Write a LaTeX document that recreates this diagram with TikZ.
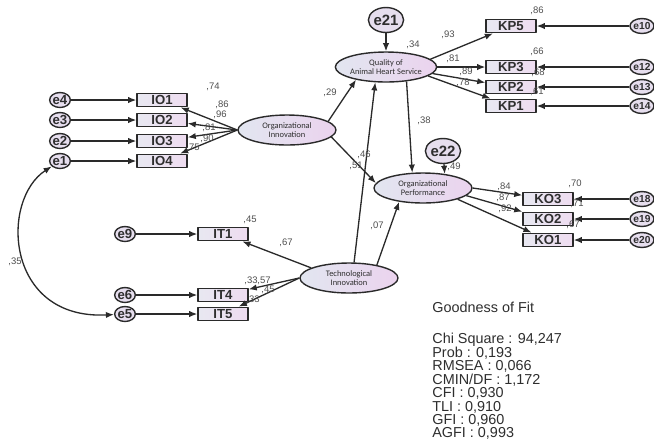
\documentclass[tikz,border=0pt]{standalone}
\usepackage{fontspec}
\setmainfont{Liberation Sans}
\newfontfamily\carlito{Carlito}
\usetikzlibrary{arrows.meta,shapes.geometric}

\definecolor{lineg}{HTML}{2A2A2A}
\definecolor{txtg}{HTML}{2E2E2E}
\definecolor{coefg}{HTML}{4E4E4E}
\definecolor{boxl}{HTML}{E8E8F1}
\definecolor{boxr}{HTML}{EEDCF0}
\definecolor{latl}{HTML}{E2E6F0}
\definecolor{latr}{HTML}{EBD3EE}
\definecolor{errf}{HTML}{E6DEEE}

\tikzset{
  obs/.style={draw=lineg, line width=0.8pt, left color=boxl, right color=boxr,
    minimum width=1cm, minimum height=0.27cm, inner sep=0pt,
    font=\fontsize{7.5}{8}\selectfont\bfseries, text=txtg},
  lat/.style={ellipse, draw=lineg, line width=0.8pt, left color=latl, right color=latr,
    minimum width=1.96cm, minimum height=0.6cm, inner sep=0pt, align=center,
    font=\carlito\fontsize{4.8}{5.4}\selectfont, text=txtg},
  err/.style={ellipse, draw=lineg, line width=0.8pt, fill=errf,
    minimum width=0.36cm, minimum height=0.3cm, inner sep=0pt,
    font=\fontsize{7.5}{8}\selectfont\bfseries, text=txtg},
  smallerr/.style={err, font=\fontsize{5.8}{6}\selectfont\bfseries},
  bigerr/.style={err, minimum width=0.54cm, minimum height=0.5cm,
    font=\fontsize{8.5}{9}\selectfont\bfseries},
  coef/.style={font=\fontsize{5.4}{6}\selectfont, text=coefg, inner sep=0pt},
  path/.style={->, draw=lineg, line width=0.75pt},
  gof/.style={font=\fontsize{8.2}{7.65}\selectfont, text=txtg, inner sep=0pt, align=left}
}

\begin{document}
\begin{tikzpicture}[x=0.02cm, y=-0.02cm, line join=round, >={Latex[length=4.6pt,width=3.6pt]}]
\useasboundingbox (0,0) rectangle (654,441);

% Organizational Innovation
\node[lat] (OI) at (287,130) {Organizational\\Innovation};
\node[obs] (IO1) at (162,100) {IO1};
\node[obs] (IO2) at (162,120) {IO2};
\node[obs] (IO3) at (162,141) {IO3};
\node[obs] (IO4) at (162,161) {IO4};
\node[err] (e4) at (60,100) {e4};
\node[err] (e3) at (60,120) {e3};
\node[err] (e2) at (60,141) {e2};
\node[err] (e1) at (60,161) {e1};
\draw[path] (e4) -- (IO1);
\draw[path] (e3) -- (IO2);
\draw[path] (e2) -- (IO3);
\draw[path] (e1) -- (IO4);
\draw[path] (OI.west) -- (IO1);
\draw[path] (OI.west) -- (IO2);
\draw[path] (OI.west) -- (IO3);
\draw[path] (OI.west) -- (IO4);

% Technological Innovation
\node[lat] (TI) at (349,278) {Technological\\Innovation};
\node[obs] (IT1) at (223,234) {IT1};
\node[obs] (IT4) at (223,295) {IT4};
\node[obs] (IT5) at (223,314) {IT5};
\node[err] (e9) at (125,234) {e9};
\node[err] (e6) at (125,295) {e6};
\node[err] (e5) at (125,314) {e5};
\draw[path] (e9) -- (IT1);
\draw[path] (e6) -- (IT4);
\draw[path] (e5) -- (IT5);
\draw[path] (TI.165) -- (IT1);
\draw[path] (TI.west) -- (IT4);
\draw[path] (TI.west) -- (IT5);

% Quality of Animal Heart Service
\node[lat] (QAHS) at (386,67) {Quality of\\Animal Heart Service};
\node[bigerr] (e21) at (386,20) {e21};
\node[obs] (KP5) at (511,26) {KP5};
\node[obs] (KP3) at (511,67) {KP3};
\node[obs] (KP2) at (511,87) {KP2};
\node[obs] (KP1) at (511,106) {KP1};
\node[smallerr] (e10) at (642,26) {e10};
\node[smallerr] (e12) at (642,67) {e12};
\node[smallerr] (e13) at (642,87) {e13};
\node[smallerr] (e14) at (642,106) {e14};
\draw[path] (e21) -- (QAHS);
\draw[path] (e10) -- (KP5);
\draw[path] (e12) -- (KP3);
\draw[path] (e13) -- (KP2);
\draw[path] (e14) -- (KP1);
\draw[path] (QAHS.10) -- (KP5);
\draw[path] (QAHS.east) -- (KP3);
\draw[path] (QAHS.-8) -- (KP2);
\draw[path] (QAHS.-12) -- (KP1);

% Organizational Performance
\node[lat] (OP) at (423,188) {Organizational\\Performance};
\node[bigerr] (e22) at (443,151) {e22};
\node[obs] (KO3) at (548,199) {KO3};
\node[obs] (KO2) at (548,219) {KO2};
\node[obs] (KO1) at (548,240) {KO1};
\node[smallerr] (e18) at (642,199) {e18};
\node[smallerr] (e19) at (642,219) {e19};
\node[smallerr] (e20) at (642,240) {e20};
\draw[path] (e22) -- (OP.33);
\draw[path] (e18) -- (KO3);
\draw[path] (e19) -- (KO2);
\draw[path] (e20) -- (KO1);
\draw[path] (OP.east) -- (KO3);
\draw[path] (OP.-10) -- (KO2);
\draw[path] (OP.-18) -- (KO1);

% Jalur struktural
\draw[path] (OI.12) -- (QAHS.203);
\draw[path] (OI.-9) -- (OP.174);
\draw[path] (TI.72) -- (QAHS.235);
\draw[path] (TI.25) -- (OP.210);
\draw[path] (QAHS.-35) -- (OP.125);

% Kovarians e1 - e5
\draw[<->, draw=lineg, line width=0.75pt] (e1) .. controls (0,200) and (5,320) .. (e5);

% Koefisien
\node[coef] (k1) at (213,87) {,74};
\node[coef] (k2) at (222,105) {,86};
\node[coef] (k3) at (220,115) {,96};
\node[coef] (k4) at (209,128) {,81};
\node[coef] (k5) at (207,139) {,90};
\node[coef] (k6) at (193,148) {,75};
\node[coef] (k7) at (250,220) {,45};
\node[coef] (k8) at (286,243) {,67};
\node[coef] (k9) at (251,281) {,33};
\node[coef] (k10) at (264,281) {,57};
\node[coef] (k11) at (268,290) {,45};
\node[coef] (k12) at (253,300) {,33};
\node[coef] (k13) at (15,262) {,35};
\node[coef] (k14) at (330,93) {,29};
\node[coef] (k15) at (413,45) {,34};
\node[coef] (k16) at (424,121) {,38};
\node[coef] (k17) at (364,155) {,46};
\node[coef] (k18) at (356,166) {,51};
\node[coef] (k19) at (377,226) {,07};
\node[coef] (k20) at (454,167) {,49};
\node[coef] (k21) at (448,35) {,93};
\node[coef] (k22) at (453,59) {,81};
\node[coef] (k23) at (466,72) {,89};
\node[coef] (k24) at (463,83) {,78};
\node[coef] (k25) at (537,11) {,86};
\node[coef] (k26) at (537,52) {,66};
\node[coef] (k27) at (538,73) {,68};
\node[coef] (k28) at (537,92) {,61};
\node[coef] (k29) at (504,187) {,84};
\node[coef] (k30) at (503,198) {,87};
\node[coef] (k31) at (505,209) {,92};
\node[coef] (k32) at (575,184) {,70};
\node[coef] (k33) at (577,204) {,71};
\node[coef] (k34) at (573,225) {,67};

% Goodness of Fit
\node[gof, anchor=base west] (gofT) at (432,312) {Goodness of Fit};
\node[gof, anchor=north west] (gofS) at (432,333) {Chi Square : 94,247\\Prob : 0,193\\RMSEA : 0,066\\CMIN/DF : 1,172\\CFI : 0,930\\TLI : 0,910\\GFI : 0,960\\AGFI : 0,993};
\end{tikzpicture}
\end{document}
